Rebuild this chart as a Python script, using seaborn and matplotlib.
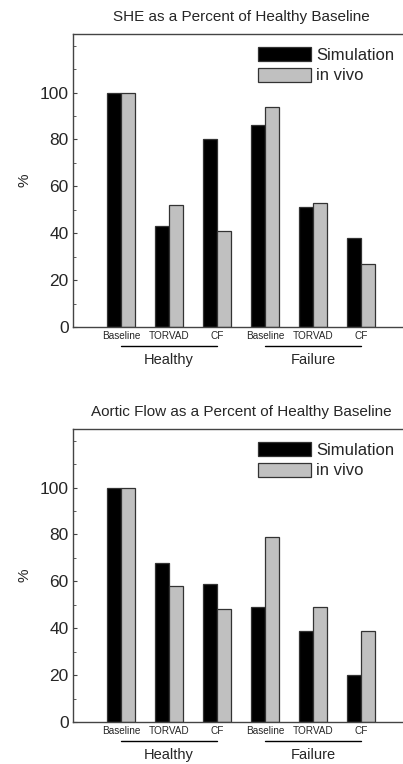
import matplotlib
matplotlib.use("Agg")
import matplotlib.pyplot as plt
import seaborn as sns
import pandas as pd
from matplotlib.ticker import MultipleLocator

categories = ["Baseline", "TORVAD", "CF", "Baseline ", "TORVAD ", "CF "]
tick_labels = ["Baseline", "TORVAD", "CF", "Baseline", "TORVAD", "CF"]
groups = ["Healthy", "Failure"]
series_names = ["Simulation", "in vivo"]

she_sim = [100, 43, 80, 86, 51, 38]
she_vivo = [100, 52, 41, 94, 53, 27]
flow_sim = [100, 68, 59, 49, 39, 20]
flow_vivo = [100, 58, 48, 79, 49, 39]

titles = ["SHE as a Percent of Healthy Baseline",
          "Aortic Flow as a Percent of Healthy Baseline"]
yticks = [0, 20, 40, 60, 80, 100]

sns.set_style("ticks")
plt.rcParams['font.family'] = ['Liberation Sans', 'DejaVu Sans']

fig = plt.figure(figsize=(4.03, 7.64), dpi=100)
axes_pos = [[0.181, 0.572, 0.834, 0.3835], [0.181, 0.055, 0.834, 0.3835]]
datasets = [(she_sim, she_vivo), (flow_sim, flow_vivo)]
spine_col = "#444444"

for pos, (sim, vivo), title in zip(axes_pos, datasets, titles):
    ax = fig.add_axes(pos)
    df = pd.DataFrame({
        "cat": categories * 2,
        "val": sim + vivo,
        "series": [series_names[0]] * 6 + [series_names[1]] * 6,
    })
    sns.barplot(data=df, x="cat", y="val", hue="series", order=categories,
                hue_order=series_names, palette=["#000000", "#c0c0c0"],
                width=0.58, edgecolor="#333333", linewidth=0.9,
                errorbar=None, ax=ax, saturation=1)
    ax.set_xlim(-1, 6)
    ax.set_ylim(0, 125)
    ax.set_yticks(yticks)
    ax.yaxis.set_minor_locator(MultipleLocator(10))
    ax.set_xticks(range(6))
    ax.set_xticklabels(tick_labels, fontsize=7.2)
    ax.tick_params(axis='x', length=0, pad=3)
    ax.tick_params(axis='y', which='major', direction='in', length=3,
                   labelsize=12.5, color=spine_col, pad=3)
    ax.tick_params(axis='y', which='minor', direction='in', length=2,
                   color=spine_col)
    ax.set_xlabel("")
    ax.set_ylabel("%", fontsize=11, labelpad=6)
    for s in ax.spines.values():
        s.set_color(spine_col)
        s.set_linewidth(1.0)
    ax.set_title(title, fontsize=11, pad=9)
    leg = ax.legend(loc="upper right", frameon=False, fontsize=12,
                    handlelength=3.2, handleheight=0.9, labelspacing=0.3,
                    handletextpad=0.3, borderaxespad=0.3,
                    bbox_to_anchor=(0.99, 0.995))
    # group lines and labels
    trans = ax.get_xaxis_transform()
    for gi, g in enumerate(groups):
        x0, x1 = gi * 3, gi * 3 + 2
        ax.plot([x0, x1], [-0.065, -0.065], color="black", lw=1.0,
                transform=trans, clip_on=False)
        ax.text((x0 + x1) / 2, -0.088, g, transform=trans, ha="center",
                va="top", fontsize=10.5)

fig.savefig("out.png", dpi=100)
